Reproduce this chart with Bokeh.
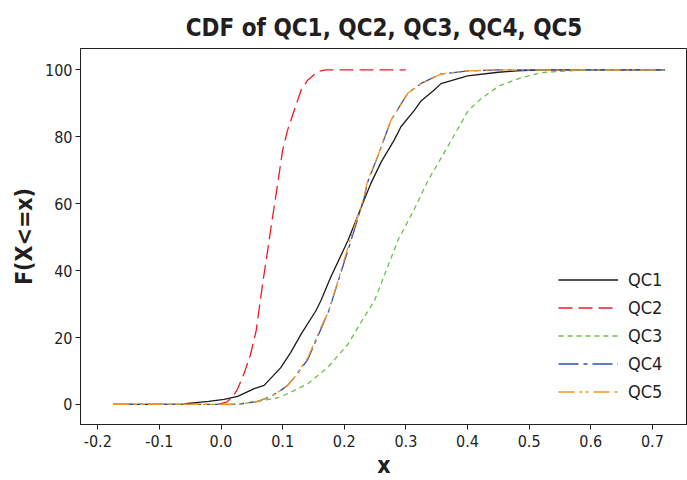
from bokeh.plotting import figure
from bokeh.models import Range1d, FixedTicker, PrintfTickFormatter, Legend, LegendItem
from bokeh.embed import file_html
from bokeh.resources import INLINE

# ---- data ----
qc1_x = [-0.175, -0.06, -0.054, -0.02, 0.005, 0.027, 0.054, 0.07, 0.097, 0.113, 0.13, 0.154,
         0.162, 0.178, 0.206, 0.232, 0.243, 0.26, 0.281, 0.292, 0.314, 0.325, 0.346, 0.357,
         0.40, 0.45, 0.48, 0.52, 0.72]
qc1_y = [0, 0, 0.3, 0.9, 1.5, 2.4, 4.7, 5.7, 11, 15.5, 21, 28,
         31, 38, 49, 61, 66, 72.5, 79, 83, 88, 90.8, 94, 95.9,
         98.2, 99.3, 99.7, 100, 100]

qc2_x = [-0.005, 0.01, 0.02, 0.027, 0.037, 0.048, 0.057, 0.0675, 0.0756, 0.0837, 0.092, 0.10,
         0.108, 0.119, 0.13, 0.141, 0.157, 0.17, 0.30]
qc2_y = [0, 0.8, 2.5, 4.7, 9, 15, 22, 36, 46, 56, 66, 76,
         82, 88, 94, 97, 99.5, 100, 100]

qc3_x = [-0.175, 0.02, 0.05, 0.092, 0.108, 0.141, 0.173, 0.206, 0.232, 0.249, 0.268, 0.287,
         0.314, 0.336, 0.352, 0.38, 0.401, 0.422, 0.452, 0.488, 0.52, 0.574, 0.60, 0.72]
qc3_y = [0, 0, 0.6, 2, 3.2, 6.2, 11, 18, 26, 31, 40, 49,
         58.5, 67, 72, 81, 87.8, 91.4, 95.3, 97.7, 99.2, 99.8, 100, 100]

qc4_x = [-0.175, 0.03, 0.037, 0.06, 0.081, 0.097, 0.108, 0.119, 0.141, 0.162, 0.175, 0.211,
         0.232, 0.238, 0.254, 0.276, 0.303, 0.325, 0.357, 0.401, 0.45, 0.72]
qc4_y = [0, 0, 0.3, 0.9, 2.4, 4.2, 5.7, 8, 13.5, 22.5, 28, 49,
         61.5, 66.5, 74, 85, 93, 96, 98.8, 99.7, 100, 100]

qc5_x = [-0.175, 0.03, 0.037, 0.06, 0.081, 0.097, 0.108, 0.119, 0.141, 0.162, 0.175, 0.211,
         0.232, 0.238, 0.254, 0.276, 0.303, 0.325, 0.357, 0.401, 0.45, 0.72]
qc5_y = [0, 0, 0.3, 0.9, 2.4, 4.2, 5.7, 8, 14, 23, 28, 50,
         62, 67, 74, 85, 93, 96, 98.8, 99.7, 100, 100]

series_names = ["QC1", "QC2", "QC3", "QC4", "QC5"]
x_ticks = [-0.2, -0.1, 0.0, 0.1, 0.2, 0.3, 0.4, 0.5, 0.6, 0.7]
y_ticks = [0, 20, 40, 60, 80, 100]

FONT = "DejaVu Sans Condensed, DejaVu Sans"
TXT = "#231f20"

X0, X1 = -0.228, 0.757
Y0, Y1 = -6.0, 106.4

p = figure(width=687, height=480, output_backend="svg", toolbar_location=None,
           x_range=Range1d(X0, X1), y_range=Range1d(Y0, Y1),
           min_border_left=80, min_border_right=0, min_border_top=48, min_border_bottom=0,
           title="CDF of QC1, QC2, QC3, QC4, QC5")

p.title.text_font = FONT
p.title.text_font_size = "24px"
p.title.text_font_style = "bold"
p.title.text_color = TXT
p.title.align = "center"
p.title.standoff = 14

p.outline_line_color = TXT
p.outline_line_width = 1
p.xgrid.visible = False
p.ygrid.visible = False
p.background_fill_color = "white"
p.border_fill_color = "white"

for ax in (p.xaxis[0], p.yaxis[0]):
    ax.axis_line_color = TXT
    ax.major_tick_line_color = TXT
    ax.major_tick_out = 5
    ax.major_tick_in = 0
    ax.minor_tick_line_color = None
    ax.major_label_text_font = FONT
    ax.major_label_text_font_size = "16px"
    ax.major_label_text_color = TXT
    ax.axis_label_text_font = FONT
    ax.axis_label_text_font_style = "bold"
    ax.axis_label_text_font_size = "23px"
    ax.axis_label_text_color = TXT

p.xaxis.ticker = FixedTicker(ticks=x_ticks)
p.xaxis.formatter = PrintfTickFormatter(format="%.1f")
p.yaxis.ticker = FixedTicker(ticks=y_ticks)
p.xaxis.axis_label = "x"
p.yaxis.axis_label = "F(X<=x)"
p.xaxis.major_label_standoff = 5
p.yaxis.major_label_standoff = 3
p.xaxis.axis_label_standoff = 2
p.yaxis.axis_label_standoff = 5

r1 = p.line(qc1_x, qc1_y, line_color="#1a1a1a", line_width=1.3)
r2 = p.line(qc2_x, qc2_y, line_color="#ed1c24", line_width=1.3, line_dash="14 6")
r3 = p.line(qc3_x, qc3_y, line_color="#6cc04a", line_width=1.3, line_dash="5 4")
r4 = p.line(qc4_x, qc4_y, line_color="#2e4fb5", line_width=1.3, line_dash="20 5 4 5")
r5 = p.line(qc5_x, qc5_y, line_color="#f7941d", line_width=1.3, line_dash="16 5 3 3 3 5")

legend = Legend(items=[LegendItem(label=n, renderers=[r]) for n, r in
                       zip(series_names, [r1, r2, r3, r4, r5])],
                location=(468, 10))
legend.glyph_width = 60
legend.glyph_height = 25
legend.label_height = 25
legend.spacing = 3
legend.padding = 10
legend.label_standoff = 10
legend.label_text_font = FONT
legend.label_text_font_size = "18px"
legend.label_text_color = TXT
legend.border_line_alpha = 0
legend.background_fill_alpha = 0
p.add_layout(legend, "center")

open("out.html", "w").write(file_html(p, INLINE))
